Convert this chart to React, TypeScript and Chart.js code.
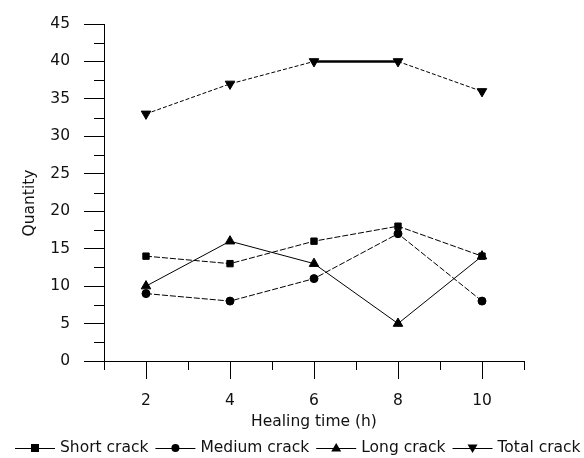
import React, { useEffect, useRef } from 'react';
import { Chart, registerables } from 'chart.js';

Chart.register(...registerables);

const hours = [2, 4, 6, 8, 10];
const shortCrack = [14, 13, 16, 18, 14];
const mediumCrack = [9, 8, 11, 17, 8];
const longCrack = [10, 16, 13, 5, 14];
const totalCrack = [33, 37, 40, 40, 36];
const seriesNames = ['Short crack', 'Medium crack', 'Long crack', 'Total crack'];
const markerStyles = ['rect', 'circle', 'triangle', 'invtriangle'];
const yTickValues = [0, 5, 10, 15, 20, 25, 30, 35, 40, 45];
const yMinorTicks = [2.5, 7.5, 12.5, 17.5, 22.5, 27.5, 32.5, 37.5, 42.5];
const xTickValues = [2, 4, 6, 8, 10];
const xMinorTicks = [1, 3, 5, 7, 9, 11];
const xTitle = 'Healing time (h)';
const yTitle = 'Quantity';

const FONT = '"DejaVu Sans", sans-serif';
const FS = 15.5;
const INK = '#111';

function drawMarker(ctx: CanvasRenderingContext2D, style: string, cx: number, cy: number) {
  ctx.beginPath();
  if (style === 'rect') {
    ctx.rect(cx - 4, cy - 4, 8, 8);
  } else if (style === 'circle') {
    ctx.arc(cx, cy, 4, 0, Math.PI * 2);
  } else if (style === 'triangle') {
    ctx.moveTo(cx, cy - 5);
    ctx.lineTo(cx + 5, cy + 3.5);
    ctx.lineTo(cx - 5, cy + 3.5);
    ctx.closePath();
  } else {
    ctx.moveTo(cx, cy + 5);
    ctx.lineTo(cx + 5, cy - 3.5);
    ctx.lineTo(cx - 5, cy - 3.5);
    ctx.closePath();
  }
  ctx.fill();
}

const decorPlugin = {
  id: 'decor',
  afterDraw(chart: any) {
    const { ctx, chartArea } = chart;
    const xs = chart.scales.x;
    const ys = chart.scales.y;
    ctx.save();
    ctx.strokeStyle = '#000';
    ctx.lineWidth = 1;
    ctx.beginPath();
    yMinorTicks.forEach((v) => {
      const py = Math.round(ys.getPixelForValue(v)) + 0.5;
      ctx.moveTo(chartArea.left - 10, py);
      ctx.lineTo(chartArea.left, py);
    });
    xMinorTicks.forEach((v) => {
      const px = Math.round(xs.getPixelForValue(v)) + 0.5;
      ctx.moveTo(px, chartArea.bottom);
      ctx.lineTo(px, chartArea.bottom + 9);
    });
    ctx.stroke();

    // y title
    ctx.font = FS + 'px ' + FONT;
    ctx.fillStyle = INK;
    ctx.textAlign = 'center';
    ctx.textBaseline = 'middle';
    ctx.save();
    ctx.translate(30, 203);
    ctx.rotate(-Math.PI / 2);
    ctx.fillText(yTitle, 0, 0);
    ctx.restore();

    // legend
    ctx.textBaseline = 'middle';
    const cy = 448;
    let x = 15;
    seriesNames.forEach((name, i) => {
      ctx.strokeStyle = '#000';
      ctx.lineWidth = 1;
      ctx.beginPath();
      ctx.moveTo(x, cy + 0.5);
      ctx.lineTo(x + 40, cy + 0.5);
      ctx.stroke();
      ctx.fillStyle = '#000';
      drawMarker(ctx, markerStyles[i], x + 20, cy);
      x += 45;
      ctx.fillStyle = INK;
      ctx.textAlign = 'left';
      ctx.fillText(name, x, cy);
      x += ctx.measureText(name).width + 7;
    });
    ctx.restore();
  },
};

function toPoints(vals: number[]) {
  return hours.map((h, i) => ({ x: h, y: vals[i] }));
}

export default function App() {
  const ref = useRef<HTMLCanvasElement | null>(null);
  useEffect(() => {
    if (!ref.current) return;
    const common = {
      borderColor: '#000',
      backgroundColor: '#000',
      pointBorderColor: '#000',
      pointBackgroundColor: '#000',
      borderWidth: 1,
      pointHoverRadius: 4,
      tension: 0,
    };
    const chart = new Chart(ref.current, {
      type: 'line',
      data: {
        datasets: [
          { ...common, label: seriesNames[0], data: toPoints(shortCrack), pointStyle: 'rect', pointRadius: 4.5, borderDash: [6, 2] },
          { ...common, label: seriesNames[1], data: toPoints(mediumCrack), pointStyle: 'circle', pointRadius: 4, borderDash: [6, 2] },
          { ...common, label: seriesNames[2], data: toPoints(longCrack), pointStyle: 'triangle', pointRadius: 5.5 },
          {
            ...common,
            label: seriesNames[3],
            data: toPoints(totalCrack),
            pointStyle: 'triangle',
            pointRotation: 180,
            pointRadius: 5.5,
            segment: {
              borderDash: (c: any) => (c.p0DataIndex === 2 ? [] : [4, 2]),
              borderWidth: (c: any) => (c.p0DataIndex === 2 ? 2.5 : 1),
            },
          },
        ] as any,
      },
      options: {
        animation: false,
        responsive: false,
        layout: { padding: { left: 0, right: 60, top: 24, bottom: 26 } },
        plugins: { legend: { display: false }, tooltip: { enabled: false } },
        scales: {
          x: {
            type: 'linear',
            min: 1,
            max: 11,
            afterBuildTicks: (s: any) => {
              s.ticks = xTickValues.map((v) => ({ value: v }));
            },
            afterFit: (s: any) => {
              s.height = 71;
            },
            grid: { drawOnChartArea: false, drawTicks: true, tickLength: 18, tickColor: '#000', tickWidth: 1 },
            border: { display: true, color: '#000', width: 1 },
            ticks: { padding: 13, color: INK, font: { family: FONT, size: FS } },
            title: {
              display: true,
              text: xTitle,
              color: INK,
              font: { family: FONT, size: FS },
              padding: { top: 0, bottom: 1 },
            },
          },
          y: {
            type: 'linear',
            min: 0,
            max: 45,
            afterBuildTicks: (s: any) => {
              s.ticks = yTickValues.map((v) => ({ value: v }));
            },
            afterFit: (s: any) => {
              s.width = 104;
            },
            grid: { drawOnChartArea: false, drawTicks: true, tickLength: 20, tickColor: '#000', tickWidth: 1 },
            border: { display: true, color: '#000', width: 1 },
            ticks: { padding: 14, color: INK, font: { family: FONT, size: FS } },
            title: { display: false },
          },
        },
      } as any,
      plugins: [decorPlugin],
    });
    return () => chart.destroy();
  }, []);
  return (
    <div style={{ position: 'fixed', left: 0, top: 0, width: 584, height: 458, background: '#fff' }}>
      <canvas ref={ref} width={584} height={458} style={{ display: 'block' }} />
    </div>
  );
}
